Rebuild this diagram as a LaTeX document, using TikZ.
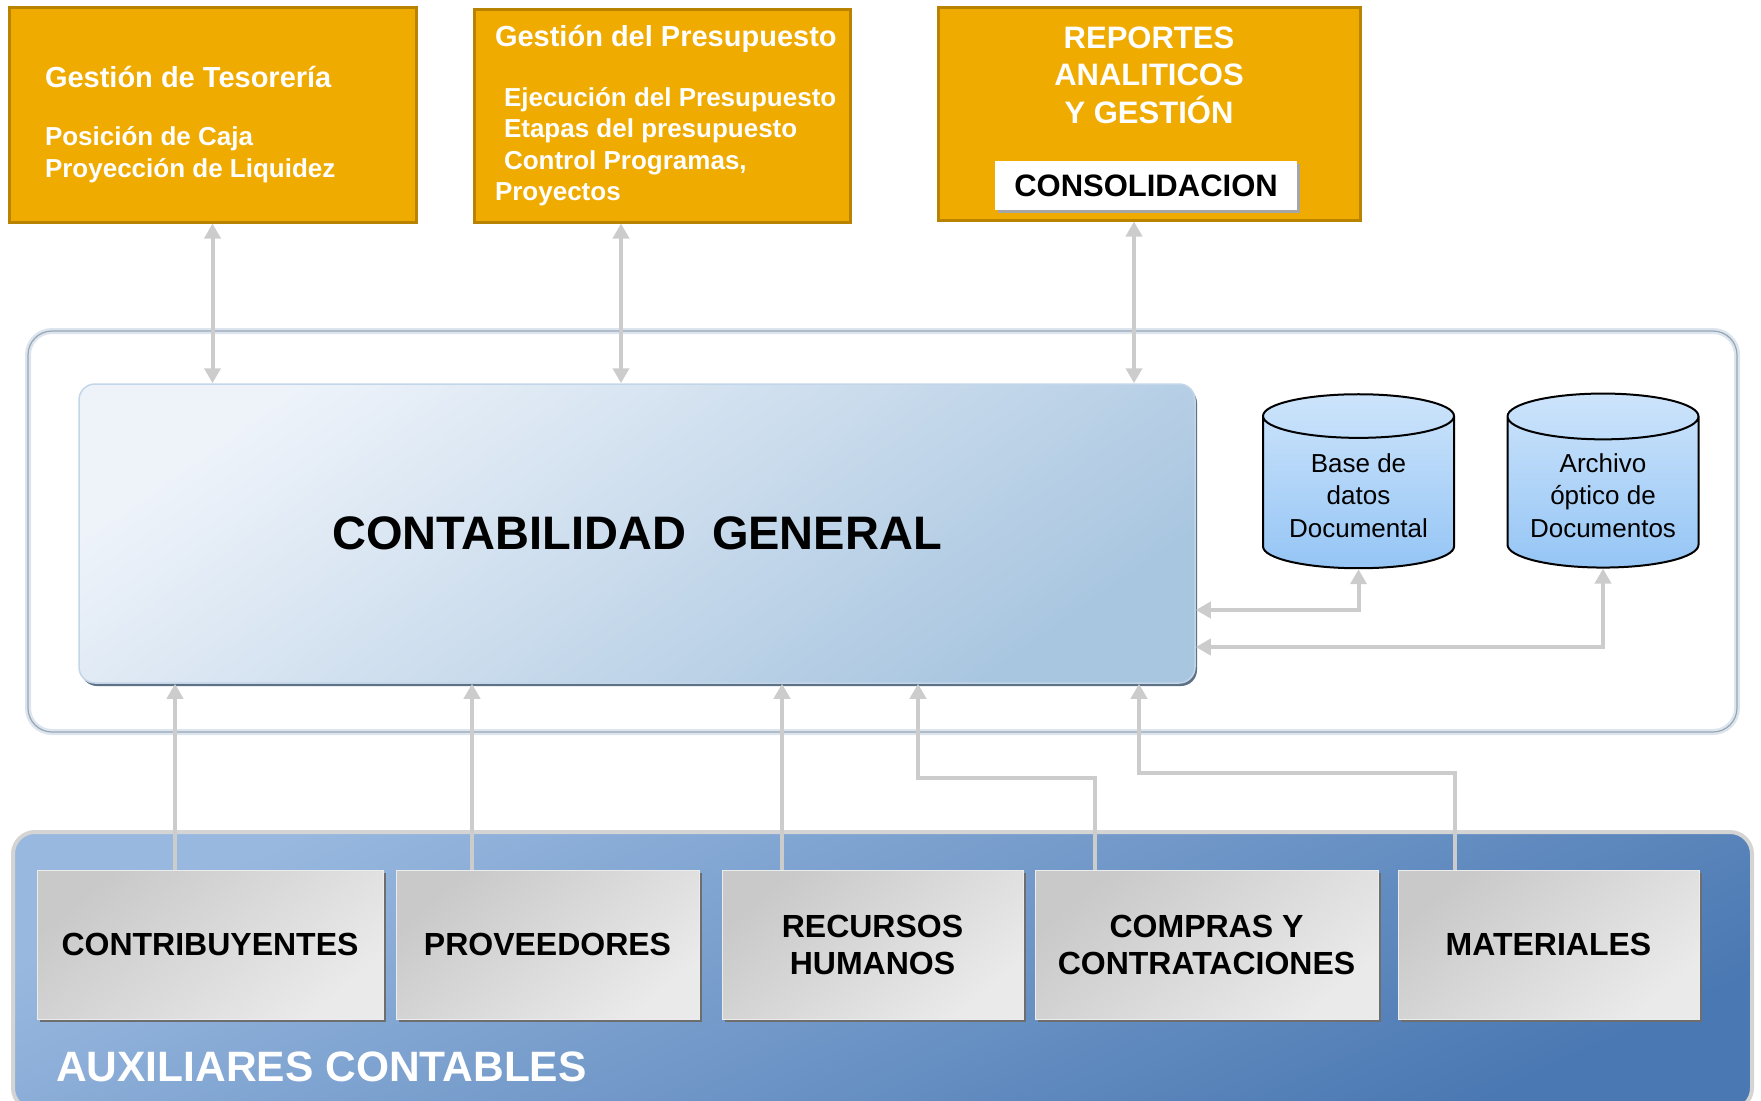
\documentclass[tikz,border=0pt]{standalone}
\usepackage{fontspec}
\setmainfont{Liberation Sans}
\usetikzlibrary{arrows.meta,shapes.geometric,shadows,positioning}
\definecolor{modorange}{HTML}{F0AB00}
\definecolor{modedge}{HTML}{B98300}
\definecolor{cgtop}{HTML}{EEF3FA}
\definecolor{cgbot}{HTML}{A9C6E0}
\definecolor{cgedge}{HTML}{C3D5E8}
\definecolor{cgshadow}{HTML}{5E7286}
\definecolor{frameline}{HTML}{98A6B4}
\definecolor{framelight}{HTML}{DCE5EE}
\definecolor{auxtop}{HTML}{98B8DF}
\definecolor{auxbot}{HTML}{4A78B2}
\definecolor{auxedge}{HTML}{D4D4D4}
\definecolor{boxtop}{HTML}{C9C9C9}
\definecolor{boxbot}{HTML}{EAEAEA}
\definecolor{boxshadow}{HTML}{6E6E6E}
\definecolor{cyltop}{HTML}{CDE4FB}
\definecolor{cylbot}{HTML}{95C5F5}
\definecolor{linkgray}{HTML}{CCCCCC}

\begin{document}
\begin{tikzpicture}[x=1pt, y=-1pt, >={Triangle[width=16pt,length=15pt]},
   module/.style={draw=modedge, line width=3pt, fill=modorange, text=white, align=flush left,
      inner xsep=4pt, font=\fontsize{26}{32}\selectfont\bfseries},
   ledger/.style={draw=cgedge, line width=1.5pt, rounded corners=16pt,
      top color=cgtop, bottom color=cgbot, shading angle=35,
      drop shadow={shadow xshift=2pt, shadow yshift=-3pt, fill=cgshadow, opacity=1}},
   store/.style={cylinder, shape border rotate=90, aspect=0.3, draw=black, line width=2pt,
      top color=cyltop, middle color=white, bottom color=cylbot, align=center,
      minimum width=191pt, minimum height=174pt, font=\fontsize{26}{32.6}\selectfont},
   auxbox/.style={draw=white!85!gray, line width=1pt, top color=boxtop, bottom color=boxbot,
      shading angle=40, align=center, minimum height=149pt, font=\fontsize{32}{37}\selectfont\bfseries,
      drop shadow={shadow xshift=3pt, shadow yshift=-3pt, fill=boxshadow, opacity=1}},
   link/.style={draw=linkgray, line width=4pt}]
   \useasboundingbox (0,0) rectangle (1761,1100);

   \node (tes) at (212.5,114.5) [module, minimum width=407pt, minimum height=215pt, text width=335pt]
      {\rule{0pt}{41pt}{\fontsize{29}{34}\selectfont Gestión de Tesorería}\\[26pt]Posición de Caja\\Proyección de Liquidez};
   \node (pre) at (662,115.5) [module, minimum width=376pt, minimum height=213pt, text width=360pt,
      font=\fontsize{26}{31.3}\selectfont\bfseries]
      {\hspace*{13pt}{\fontsize{29}{34}\selectfont Gestión del Presupuesto}\\[29pt]
       \hspace*{22pt}Ejecución del Presupuesto\\\hspace*{22pt}Etapas del presupuesto\\
       \hspace*{22pt}Control Programas,\\\hspace*{13pt}Proyectos};
   \node (rep) at (1149,113.5) [module, minimum width=422pt, minimum height=213pt] {};
   \node (reptxt) at (1149,75) [text=white, font=\fontsize{31}{37.6}\selectfont\bfseries, align=center]
      {REPORTES\\ANALITICOS\\Y GESTIÓN};
   \node (cons) at (1146,185.5) [fill=white, minimum width=302pt, minimum height=49pt, font=\fontsize{31}{36}\selectfont\bfseries,
      drop shadow={shadow xshift=3pt, shadow yshift=-3pt, fill=black!35, opacity=1}] {CONSOLIDACION};

   \node (frame) at (882.5,531.5) [draw=frameline, line width=1.2pt, rounded corners=24pt,
      preaction={draw=framelight, line width=6pt}, minimum width=1709pt, minimum height=401pt] {};
   \node (cg) at (637,533.5) [ledger, minimum width=1116pt, minimum height=299pt,
      font=\fontsize{47}{56}\selectfont\bfseries] {CONTABILIDAD\hspace{0.55em}GENERAL};
   \node (db1) at (1358.5,495.5) [store] {Base de\\datos\\Documental};
   \node (db2) at (1603,495.5) [store] {Archivo\\óptico de\\Documentos};

   \node (aux) at (882.5,971) [draw=auxedge, line width=4pt, rounded corners=22pt, top color=auxtop, bottom color=auxbot,
      shading angle=25, minimum width=1739pt, minimum height=278pt] {};
   \node (auxtxt) at (56,1067) [anchor=west, inner sep=0pt, text=white, font=\fontsize{42.5}{50}\selectfont\bfseries]
      {AUXILIARES CONTABLES};
   \node (contr) at (210,944.5) [auxbox, minimum width=346pt] {CONTRIBUYENTES};
   \node (prov) at (547.5,944.5) [auxbox, minimum width=303pt] {PROVEEDORES};
   \node (rrhh) at (872.5,944.5) [auxbox, minimum width=301pt] {RECURSOS\\HUMANOS};
   \node (comp) at (1206.5,944.5) [auxbox, minimum width=343pt] {COMPRAS Y\\CONTRATACIONES};
   \node (mat) at (1548.5,944.5) [auxbox, minimum width=301pt] {MATERIALES};

   \draw[link] (tes.south)[<->] -- (tes.south |- cg.north);
   \draw[link] ([xshift=-41pt]pre.south)[<->] -- ([xshift=-41pt]pre.south |- cg.north);
   \draw[link] ([xshift=-15pt]rep.south)[<->] -- ([xshift=-15pt]rep.south |- cg.north);
   \draw[link] (db1.south)[<->] |- ([yshift=-76.5pt]cg.east);
   \draw[link] (db2.south)[<->] |- ([yshift=-113.5pt]cg.east);
   \draw[link] ([xshift=-35pt]contr.north)[->] -- ([xshift=-35pt]contr.north |- cg.south);
   \draw[link] ([xshift=-75.5pt]prov.north)[->] -- ([xshift=-75.5pt]prov.north |- cg.south);
   \draw[link] ([xshift=-90.5pt]rrhh.north)[->] -- ([xshift=-90.5pt]rrhh.north |- cg.south);
   \draw[link] ([xshift=-111.5pt]comp.north)[->] -- ++(0,-92) -| ([xshift=281pt]cg.south);
   \draw[link] ([xshift=-93.5pt]mat.north)[->] -- ++(0,-97) -| ([xshift=502pt]cg.south);
\end{tikzpicture}
\end{document}
